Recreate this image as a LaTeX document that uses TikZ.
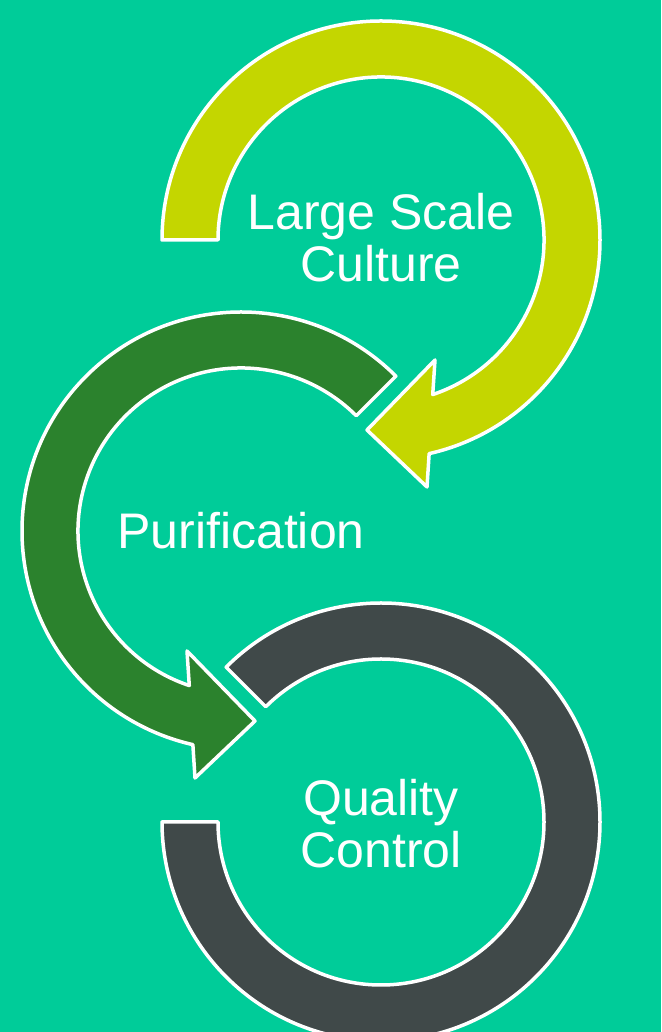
\documentclass[tikz,border=0pt]{standalone}
\usepackage{fontspec}
\setmainfont{Liberation Sans}
\definecolor{bgteal}{HTML}{00CC99}
\definecolor{limering}{HTML}{C4D600}
\definecolor{leafring}{HTML}{2B822D}
\definecolor{slatering}{HTML}{404949}
\begin{document}
\begin{tikzpicture}[x=1pt,y=1pt,
  ringarrow/.style={draw=white, line width=3.5pt, line join=round},
  ringtext/.style={text=white, font=\fontsize{50}{52}\selectfont, align=center, inner sep=0pt}]
\useasboundingbox (0,0) rectangle (661,1032);
\clip (0,0) rectangle (661,1032);
\fill[bgteal] (0,0) rectangle (661,1032);

% ring centres
\coordinate (ca) at (381,792);
\coordinate (cb) at (241,501);
\coordinate (cc) at (381,210);

% first step: clockwise arrow from the left, head pointing down-left
\begin{scope}[shift={(ca)}]
  \path[ringarrow, fill=limering]
    (180:219) arc[start angle=180, end angle=-77.3, radius=219]
    -- (46,-247) -- (-14,-190) -- (54,-120)
    -- (-71.5:163) arc[start angle=-71.5, end angle=180, radius=163] -- cycle;
\end{scope}

% second step: counter-clockwise arrow, head pointing down-right
\begin{scope}[shift={(cb)}]
  \path[ringarrow, fill=leafring]
    (45:219) arc[start angle=45, end angle=257.3, radius=219]
    -- (-46,-247) -- (14,-190) -- (-54,-120)
    -- (251.5:163) arc[start angle=251.5, end angle=45, radius=163] -- cycle;
\end{scope}

% third step: open ring without a head
\begin{scope}[shift={(cc)}]
  \path[ringarrow, fill=slatering]
    (135:219) arc[start angle=135, end angle=-180, radius=219]
    -- (-180:163) arc[start angle=-180, end angle=135, radius=163] -- cycle;
\end{scope}

\node[ringtext] (culture) at (381,794.5) {Large Scale\\Culture};
\node[ringtext] (purify) at (241,501.5) {Purification};
\node[ringtext] (quality) at (381,208) {Quality\\Control};
\end{tikzpicture}
\end{document}
